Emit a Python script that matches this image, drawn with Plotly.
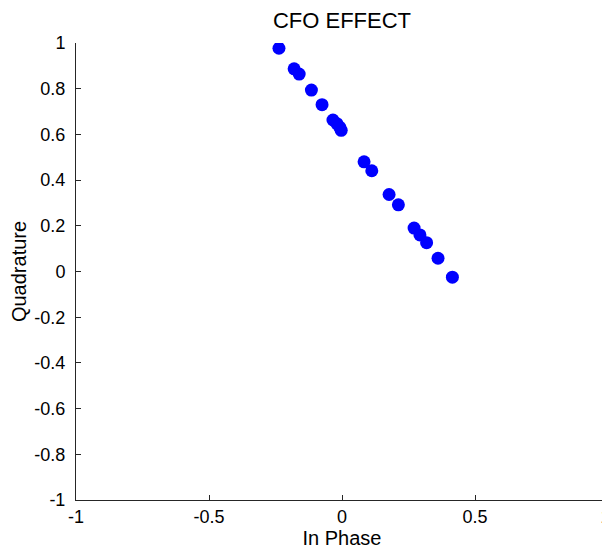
import plotly.graph_objects as go

in_phase = [-0.237, -0.180, -0.161, -0.115, -0.075, -0.034, -0.019, -0.008, -0.003,
            0.083, 0.112, 0.177, 0.212, 0.271, 0.293, 0.318, 0.361, 0.415]
quadrature = [0.977, 0.887, 0.864, 0.794, 0.730, 0.663, 0.647, 0.631, 0.618,
              0.480, 0.441, 0.337, 0.292, 0.190, 0.160, 0.126, 0.058, -0.025]

x_ticks = [-1, -0.5, 0, 0.5, 1]
x_tick_labels = ["-1", "-0.5", "0", "0.5", "1\u00a0"]
y_ticks = [-1, -0.8, -0.6, -0.4, -0.2, 0, 0.2, 0.4, 0.6, 0.8, 1]
y_tick_labels = ["-1", "-0.8", "-0.6", "-0.4", "-0.2", "0", "0.2", "0.4", "0.6", "0.8", "1"]

fig = go.Figure(go.Scatter(
    x=in_phase, y=quadrature, mode="markers",
    marker=dict(color="#0000ff", size=13, line=dict(width=0)),
    showlegend=False,
))

tick_font = dict(family="Liberation Sans, Arial, sans-serif", size=18, color="black")
label_font = dict(family="Liberation Sans, Arial, sans-serif", size=20, color="black")

fig.update_layout(
    width=610, height=552,
    paper_bgcolor="white", plot_bgcolor="white",
    margin=dict(l=68, r=10, t=35, b=60, autoexpand=False),
    font=tick_font,
    title=dict(text="CFO EFFECT", x=0.5, xanchor="center", xref="paper",
               y=0.978, yref="container", yanchor="middle",
               font=dict(family="Liberation Sans, Arial, sans-serif", size=22, color="black")),
)
fig.update_xaxes(
    range=[-1, 1], tickvals=x_ticks, ticktext=x_tick_labels,
    showgrid=False, zeroline=False, showline=True, linecolor="#262626", linewidth=1,
    ticks="inside", ticklen=5, tickcolor="#262626", mirror=False, tickfont=tick_font,
    automargin=False, ticklabeloverflow="allow", ticklabelstandoff=0,
    title=dict(text="In Phase", standoff=5, font=label_font),
)
fig.update_yaxes(
    range=[-1, 1], tickvals=y_ticks, ticktext=y_tick_labels,
    showgrid=False, zeroline=False, showline=True, linecolor="#262626", linewidth=1,
    ticks="inside", ticklen=5, tickcolor="#262626", mirror=False, tickfont=tick_font,
    automargin=False, ticklabeloverflow="allow", ticklabelstandoff=6,
    title=dict(text="Quadrature", standoff=12, font=label_font),
)

fig.write_html("out.html")
